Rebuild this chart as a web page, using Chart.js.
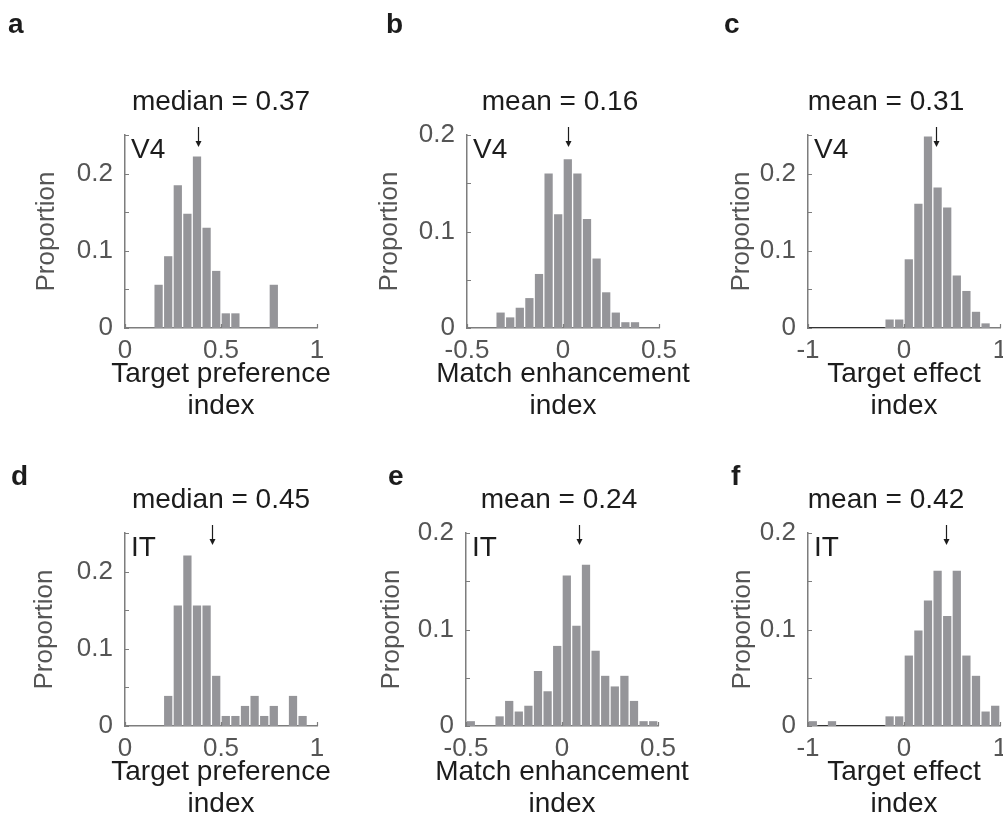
<!DOCTYPE html>
<html>
<head>
<meta charset="utf-8">
<script src="https://cdn.jsdelivr.net/npm/chart.js@4.4.1/dist/chart.umd.min.js"></script>
<style>
  html, body { margin: 0; padding: 0; background: #fff; overflow: hidden; }
  body { width: 1003px; height: 827px; position: relative; }
  canvas { position: absolute; }
</style>
</head>
<body>
<canvas id="pa"></canvas>
<canvas id="pb"></canvas>
<canvas id="pc"></canvas>
<canvas id="pd"></canvas>
<canvas id="pe"></canvas>
<canvas id="pf"></canvas>
<script>
// bin centres and proportions
const binsA = [0.175, 0.225, 0.275, 0.325, 0.375, 0.425, 0.475, 0.525, 0.575, 0.625, 0.675, 0.725, 0.775]
const propA = [0.056, 0.093, 0.185, 0.148, 0.222, 0.130, 0.074, 0.019, 0.019, 0, 0, 0, 0.056]

const binsB = [-0.325, -0.275, -0.225, -0.175, -0.125, -0.075, -0.025, 0.025, 0.075, 0.125, 0.175, 0.225, 0.275, 0.325, 0.375]
const propB = [0.016, 0.011, 0.021, 0.031, 0.056, 0.160, 0.118, 0.175, 0.160, 0.113, 0.072, 0.037, 0.016, 0.006, 0.006]

const binsC = [-0.15, -0.05, 0.05, 0.15, 0.25, 0.35, 0.45, 0.55, 0.65, 0.75, 0.85]
const propC = [0.011, 0.011, 0.089, 0.161, 0.248, 0.182, 0.156, 0.068, 0.048, 0.021, 0.006]
const emptyC = [-1, -0.2]

const binsD = [0.225, 0.275, 0.325, 0.375, 0.425, 0.475, 0.525, 0.575, 0.625, 0.675, 0.725, 0.775, 0.825, 0.875, 0.925]
const propD = [0.039, 0.156, 0.221, 0.156, 0.156, 0.065, 0.013, 0.013, 0.026, 0.039, 0.013, 0.026, 0, 0.039, 0.013]

const binsE = [-0.475, -0.425, -0.375, -0.325, -0.275, -0.225, -0.175, -0.125, -0.075, -0.025,
               0.025, 0.075, 0.125, 0.175, 0.225, 0.275, 0.325, 0.375, 0.425, 0.475]
const propE = [0.005, 0, 0, 0.010, 0.026, 0.015, 0.021, 0.057, 0.036, 0.083,
               0.156, 0.104, 0.167, 0.078, 0.052, 0.041, 0.052, 0.026, 0.005, 0.005]

const binsF = [-0.95, -0.85, -0.75, -0.65, -0.55, -0.45, -0.35, -0.25, -0.15, -0.05,
               0.05, 0.15, 0.25, 0.35, 0.45, 0.55, 0.65, 0.75, 0.85, 0.95]
const propF = [0.005, 0, 0.005, 0, 0, 0, 0, 0, 0.010, 0.010,
               0.073, 0.099, 0.130, 0.161, 0.114, 0.161, 0.073, 0.052, 0.015, 0.021]
const emptyF = [-0.9, -0.2]

// arrow positions (median / mean markers)
const arrowX = { a: 0.38, b: 0.025, c: 0.33, d: 0.455, e: 0.09, f: 0.435 }

const FONT = "'Liberation Sans', Arial, Helvetica, sans-serif"
const BAR = '#959599'
const AXIS = '#7d7d7d'
const TICKTXT = '#555555'
const INK = '#1c1c1c'

const panels = [
  { id: 'pa', key: 'a', left: 0,   top: 0,   title: 'median = 0.37', titleDx: 0,   area: 'V4', bins: binsA, props: propA, xMin: 0,    xMax: 1,   xStep: 0.5, yMax: 0.25, xTitle: ['Target preference', 'index'], letter: [8, 33],    yTitleX: 47 },
  { id: 'pb', key: 'b', left: 342, top: 0,   title: 'mean = 0.16',   titleDx: -3,  area: 'V4', bins: binsB, props: propB, xMin: -0.5, xMax: 0.5, xStep: 0.5, yMax: 0.2,  xTitle: ['Match enhancement', 'index'], letter: [386, 33],  yTitleX: 390 },
  { id: 'pc', key: 'c', left: 683, top: 0,   title: 'mean = 0.31',   titleDx: -18, area: 'V4', bins: binsC, props: propC, xMin: -1,   xMax: 1,   xStep: 1,   yMax: 0.25, xTitle: ['Target effect', 'index'],     letter: [724, 33],  yTitleX: 742, empty: emptyC },
  { id: 'pd', key: 'd', left: 0,   top: 398, title: 'median = 0.45', titleDx: 0,   area: 'IT', bins: binsD, props: propD, xMin: 0,    xMax: 1,   xStep: 0.5, yMax: 0.25, xTitle: ['Target preference', 'index'], letter: [11, 485],  yTitleX: 45 },
  { id: 'pe', key: 'e', left: 341, top: 398, title: 'mean = 0.24',   titleDx: -3,  area: 'IT', bins: binsE, props: propE, xMin: -0.5, xMax: 0.5, xStep: 0.5, yMax: 0.2,  xTitle: ['Match enhancement', 'index'], letter: [388, 485], yTitleX: 392 },
  { id: 'pf', key: 'f', left: 683, top: 398, title: 'mean = 0.42',   titleDx: -18, area: 'IT', bins: binsF, props: propF, xMin: -1,   xMax: 1,   xStep: 1,   yMax: 0.2,  xTitle: ['Target effect', 'index'],     letter: [731, 485], yTitleX: 743, empty: emptyF }
]

// plot area inside each canvas
const PL = 125, PT = 135, PW = 192, PH = 193
const CW = 400, CH = 429

const decor = {
  id: 'decor',
  afterDraw(chart, args, o) {
    const { ctx, chartArea: ca, scales: { x, y } } = chart
    const cx = (ca.left + ca.right) / 2
    ctx.save()

    // inward tick marks, matlab style
    ctx.strokeStyle = AXIS
    ctx.lineWidth = 1.2
    ctx.beginPath()
    x.ticks.forEach(t => {
      const px = Math.round(x.getPixelForValue(t.value)) + 0.5
      ctx.moveTo(px, ca.bottom); ctx.lineTo(px, ca.bottom - 4)
    })
    y.ticks.forEach(t => {
      const py = Math.round(y.getPixelForValue(t.value)) + 0.5
      ctx.moveTo(ca.left, py); ctx.lineTo(ca.left + 4, py)
    })
    ctx.stroke()

    ctx.fillStyle = INK
    ctx.font = `28px ${FONT}`
    ctx.textBaseline = 'alphabetic'
    ctx.textAlign = 'center'
    ctx.fillText(o.title, cx + o.titleDx, ca.top - 25)
    o.xTitle.forEach((s, i) => ctx.fillText(s, cx, ca.bottom + 54 + i * 32))

    ctx.textAlign = 'left'
    ctx.fillText(o.area, ca.left + 6, ca.top + 23)

    ctx.font = `bold 28px ${FONT}`
    ctx.fillText(o.letter, o.lx, o.ly)

    // marker arrow
    const ax = Math.round(x.getPixelForValue(o.arrow)) + 0.5
    ctx.strokeStyle = INK
    ctx.lineWidth = 1.2
    ctx.beginPath()
    ctx.moveTo(ax, ca.top - 8); ctx.lineTo(ax, ca.top + 8)
    ctx.stroke()
    ctx.beginPath()
    ctx.moveTo(ax - 3, ca.top + 6); ctx.lineTo(ax + 3, ca.top + 6); ctx.lineTo(ax, ca.top + 12)
    ctx.closePath()
    ctx.fill()
    ctx.restore()
  }
}

panels.forEach(p => {
  const cv = document.getElementById(p.id)
  cv.width = CW
  cv.height = CH
  cv.style.left = p.left + 'px'
  cv.style.top = p.top + 'px'

  const datasets = [{
    type: 'bar',
    data: p.bins.map((b, i) => ({ x: b, y: p.props[i] })),
    backgroundColor: BAR,
    borderWidth: 0,
    barPercentage: 0.86,
    categoryPercentage: 1
  }]
  if (p.empty) {
    datasets.push({
      type: 'line',
      data: p.empty.map(v => ({ x: v, y: 0 })),
      borderColor: '#333333',
      borderWidth: 2,
      pointRadius: 0
    })
  }

  new Chart(cv, {
    type: 'bar',
    data: { datasets },
    plugins: [decor],
    options: {
      responsive: false,
      animation: false,
      layout: { padding: { left: 0, top: PT, right: CW - PL - PW, bottom: 0 } },
      plugins: {
        legend: { display: false },
        tooltip: { enabled: false },
        decor: {
          title: p.title, titleDx: p.titleDx, area: p.area, xTitle: p.xTitle,
          letter: p.key, lx: p.letter[0] - p.left, ly: p.letter[1] - p.top,
          arrow: arrowX[p.key]
        }
      },
      scales: {
        x: {
          type: 'linear',
          min: p.xMin,
          max: p.xMax,
          offset: false,
          grid: { display: false, drawTicks: false, offset: false },
          border: { display: true, color: AXIS, width: 1.5 },
          ticks: {
            stepSize: p.xStep,
            maxRotation: 0,
            autoSkip: false,
            padding: 7,
            color: TICKTXT,
            font: { family: FONT, size: 26 },
            callback: v => String(v)
          },
          afterFit: s => { s.height = CH - PT - PH }
        },
        y: {
          min: 0,
          max: p.yMax,
          grid: { display: false, drawTicks: false },
          border: { display: true, color: AXIS, width: 1.5 },
          ticks: {
            stepSize: 0.05,
            padding: 12,
            color: TICKTXT,
            font: { family: FONT, size: 26 },
            callback: v => {
              const k = Math.round(v * 20)
              return k % 2 === 0 ? String(k / 20) : ''
            }
          },
          title: {
            display: true,
            text: 'Proportion',
            color: TICKTXT,
            font: { family: FONT, size: 26, lineHeight: 1 },
            padding: { top: p.yTitleX - p.left - 13, bottom: 0 }
          },
          afterFit: s => { s.width = PL }
        }
      }
    }
  })
})
</script>
</body>
</html>
